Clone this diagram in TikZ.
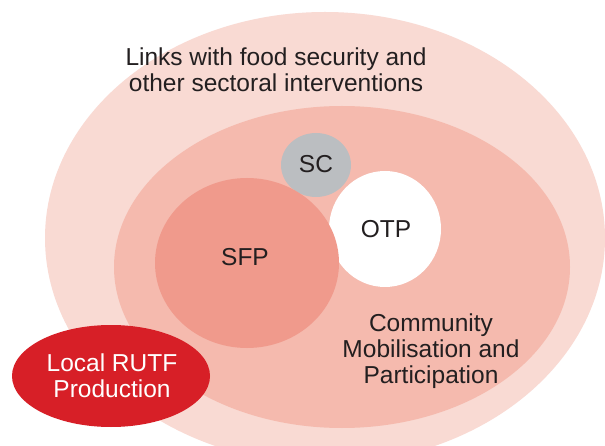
\documentclass[tikz,border=0pt]{standalone}
\usepackage{fontspec}
\setmainfont{Liberation Sans}
\usetikzlibrary{shapes.geometric}
\definecolor{outerpink}{HTML}{F9DAD3}
\definecolor{midpink}{HTML}{F5BAAE}
\definecolor{sfpcol}{HTML}{F09A8C}
\definecolor{scgray}{HTML}{BBBEC1}
\definecolor{rutfred}{HTML}{D71F27}
\definecolor{textdark}{HTML}{231F20}
\begin{document}
\begin{tikzpicture}[x=1pt,y=-1pt,
  blob/.style={ellipse, inner sep=0pt, outer sep=0pt, draw=none},
  lbl/.style={font=\fontsize{24.5}{26}\selectfont, text=textdark, align=center, inner sep=0pt}]
\useasboundingbox (0,0) rectangle (605,446);
\clip (0,0) rectangle (605,446);
\fill[white] (0,0) rectangle (605,446);
% regions
\node[blob, fill=outerpink, minimum width=560pt, minimum height=452pt] (outer) at (325,238) {};
\node[blob, fill=midpink, minimum width=456pt, minimum height=322pt] (inner) at (342,267) {};
\node[blob, fill=scgray, minimum width=70pt, minimum height=64pt] (sc) at (316,165) {};
\node[blob, fill=white, minimum width=112pt, minimum height=116pt] (otp) at (385,229) {};
\node[blob, fill=sfpcol, minimum width=184pt, minimum height=170pt] (sfp) at (247,263) {};
\node[blob, fill=rutfred, minimum width=198pt, minimum height=102pt] (rutf) at (111,376) {};
% labels
\node[lbl] (linkstxt) at (276,69.5) {Links with food security and\\other sectoral interventions};
\node[lbl, anchor=base] (sctxt) at (316,172.5) {SC};
\node[lbl, anchor=base] (otptxt) at (386,238) {OTP};
\node[lbl, anchor=base] (sfptxt) at (245,266) {SFP};
\node[lbl] (commtxt) at (431,351.5) {Community\\Mobilisation and\\Participation};
\node[lbl, text=white] (rutftxt) at (112,376) {Local RUTF\\Production};
\end{tikzpicture}
\end{document}
